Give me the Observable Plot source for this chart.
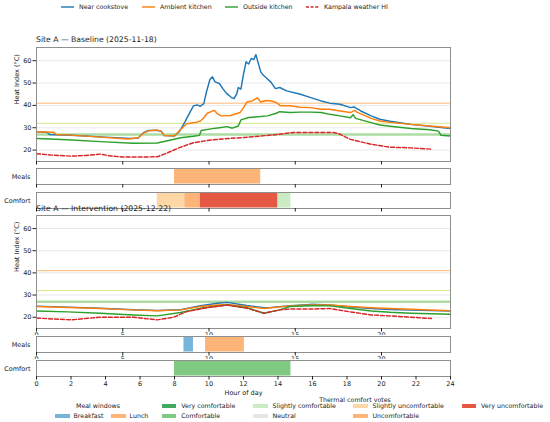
<!DOCTYPE html>
<html><head><meta charset="utf-8">
<script src="https://cdn.jsdelivr.net/npm/d3@7"></script>
<script src="https://cdn.jsdelivr.net/npm/@observablehq/plot@0.6"></script>
<style>
body{margin:0;background:#fff;}
#root{position:relative;width:550px;height:422px;overflow:hidden;font-family:"DejaVu Sans",sans-serif;color:#222;background:#fff;}
.t{position:absolute;white-space:nowrap;line-height:1;}
</style></head><body><div id="root"></div>
<script>
// ---------- DATA ----------
const seriesNames = ["Near cookstove","Ambient kitchen","Outside kitchen","Kampala weather HI"];
const yTicks = [20,30,40,50,60];
const thresholds = [27,32,41];

// Baseline (2025-11-18)
const bStoveH = [0,0.6,0.75,2,4,5.5,5.9,6.2,6.5,7.0,7.25,7.4,8.0,8.3,8.6,8.9,9.1,9.3,9.5,9.7,9.85,10.05,10.2,10.35,10.6,10.8,11.0,11.3,11.45,11.6,11.7,11.85,12.0,12.15,12.3,12.45,12.6,12.72,12.85,13.0,13.15,13.3,13.6,13.85,14.1,14.5,15.3,15.9,16.5,17.0,17.6,18.2,18.4,18.8,19.4,19.9,20.5,21.7,22.8,24];
const bStoveHI = [28.2,28.0,27.0,26.6,25.8,25.2,25.4,27.8,28.8,28.9,28.3,26.5,26.3,28.5,32.5,37,39.8,40.2,39.6,40.8,46,51.5,52.8,50.5,49.8,47.5,45.5,43.5,43,45,48,47.3,54,59.5,58.5,61,60.5,62.7,59,55,53.5,52.5,50.3,47.5,48,46.5,45,43.5,42,41,40.5,39,39.3,37.5,35.3,33.8,32.9,31.5,30.7,29.7];
const bAmbH = [0,1.0,1.15,2,3.7,5.3,5.9,6.2,6.5,6.9,7.2,7.4,8.0,8.3,8.7,9.3,9.5,9.7,9.9,10.3,10.5,10.7,11.25,11.8,12.0,12.2,12.5,12.8,13.0,13.3,13.6,13.9,14.15,14.7,15.3,15.9,16.5,17.0,17.6,18.2,18.45,18.6,19.4,19.9,20.5,21.7,22.8,24];
const bAmbHI = [28.2,28.0,27.0,26.7,25.8,25.0,25.5,27.5,28.6,29.0,28.6,26.5,26.4,28.8,31.8,32.5,33,34.5,36.5,37.8,36.2,35.3,35.5,36.8,39,41.5,42.0,43.4,41.5,42.2,42.0,41.3,39.8,39.8,39.2,39.0,38.3,38.3,37.5,36.8,37.8,36.9,34.2,33.0,32.4,31.5,30.8,30.0];
const bOutH = [0,1.8,3.7,5.6,7.0,7.6,8.35,9.1,9.45,9.55,10.1,10.6,11.05,11.35,11.7,11.85,12.3,13.0,13.4,13.9,14.1,14.7,15.3,15.9,16.5,17.0,17.6,18.2,18.35,18.5,19.4,19.9,20.5,21.7,22.8,23.3,23.45,24];
const bOutHI = [25.2,24.6,23.8,23.1,23.2,24.2,25.5,26.2,26.6,28.8,29.5,30.0,30.5,29.8,30.8,33.5,34.6,35.0,35.3,36.5,37.2,36.8,37.0,37.0,36.8,36.0,35.3,34.5,35.8,34.2,32.3,31.2,30.7,29.7,29.1,28.5,26.6,26.3];
const bWxH = [0,0.8,2.0,2.9,3.7,4.3,5.0,6.0,7.0,7.6,8.35,9.1,10.1,11.1,12.0,13.0,14.0,14.9,17.2,17.5,18.2,19.4,20.5,21.7,22.9];
const bWxHI = [18.4,17.8,17.3,17.6,18.2,17.4,16.9,16.9,17.0,18.8,21.3,23.3,24.5,25.2,25.6,26.3,27.0,27.9,27.9,27.4,24.8,22.6,21.3,21.0,20.4];

// Intervention (2025-12-22)
const iStoveH = [0,3.7,5.6,7.0,8.35,9.5,10.5,11.05,12.2,13.2,13.6,14.7,15.9,17.0,18.2,19.4,20.5,21.7,24];
const iStoveHI = [25.0,24.0,23.4,23.0,23.4,25.2,26.3,26.7,25.3,24.3,24.4,25.2,25.8,25.5,24.6,23.9,23.5,23.2,22.8];
const iAmbH = [0,3.7,5.6,7.0,8.35,9.5,10.5,11.05,12.2,13.2,13.6,14.7,15.9,17.0,18.2,19.4,20.5,21.7,24];
const iAmbHI = [24.8,23.9,23.3,22.9,23.3,24.8,25.5,25.8,24.8,23.9,24.3,25.1,25.5,25.5,24.8,24.3,23.9,23.6,22.9];
const iOutH = [0,1.8,3.7,5.6,7.0,8.35,9.5,11.05,12.2,13.2,13.6,14.1,14.7,15.9,17.0,18.2,19.4,20.5,21.7,24];
const iOutHI = [22.8,22.4,21.8,21.0,20.6,22.1,24.0,25.5,24.3,21.8,22.5,23.3,24.8,25.2,25.1,23.9,22.8,22.2,21.8,21.3];
const iWxH = [0,2.0,3.7,5.6,7.0,7.95,8.7,9.9,11.05,12.2,13.2,14.1,14.7,15.9,17.0,18.2,19.4,20.5,21.7,22.9];
const iWxHI = [19.6,18.8,20.0,20.0,18.8,20.0,22.5,24.3,25.5,24.0,21.8,23.3,23.7,23.7,23.9,22.4,21.0,20.6,20.0,19.4];

// Meal windows
const mealTypes = ["Breakfast","Lunch"];
const bMealType = ["Lunch"], bMealStart = [8.0], bMealEnd = [13.0];
const iMealType = ["Breakfast","Lunch"], iMealStart = [8.55,9.8], iMealEnd = [9.1,12.05];

// Thermal comfort votes
const comfortTypes = ["Very comfortable","Comfortable","Slightly comfortable","Neutral","Slightly uncomfortable","Uncomfortable","Very uncomfortable"];
const bComfType = ["Slightly uncomfortable","Uncomfortable","Very uncomfortable","Slightly comfortable"];
const bComfStart = [7.0,8.6,9.5,14.0], bComfEnd = [8.6,9.5,14.0,14.75];
const iComfType = ["Comfortable"], iComfStart = [8.0], iComfEnd = [14.75];

// ---------- STYLE ----------
const seriesColors = ["#1f77b4","#ff7f0e","#2ca02c","#d62728"];
const seriesDash = [null,null,null,"4,2"];
const thresholdColors = ["#acdca3","#d5e78a","#fdb874"];
const thresholdWidths = [2.6,1,1];
const mealColors = ["#6baed6","#fdae6b"];
const comfortColors = ["#31a354","#74c476","#c7e9c0","#e3e3e3","#fdd49e","#fdae6b","#e34a33"];
const FONT = "DejaVu Sans";
const FRAME = "#8f8f8f";
const TXT = "#222";

const root = document.getElementById("root");
function place(el, top){ el.style.position="absolute"; el.style.top=top+"px"; el.style.left="0px"; root.appendChild(el); }
function text(str, x, y, size, anchor){
  const d = document.createElement("div");
  d.className="t"; d.textContent=str; d.style.left=x+"px"; d.style.top=y+"px"; d.style.fontSize=size+"px";
  d.style.transform = anchor==="middle" ? "translate(-50%,-50%)" : "translate(0,-50%)";
  root.appendChild(d); return d;
}

function heatPlot(hs, vs, o){
  const marks = [
    Plot.gridY(yTicks, {stroke:"#000", strokeOpacity:0.09}),
    ...thresholds.map((v,i)=>Plot.ruleY([v], {stroke:thresholdColors[i], strokeWidth:thresholdWidths[i]})),
    ...seriesNames.map((n,k)=>{
      const rows = hs[k].map((h,i)=>({hour:h, hi:vs[k][i]}));
      return Plot.line(rows, {x:"hour", y:"hi", stroke:seriesColors[k], strokeWidth:1.45, strokeDasharray:seriesDash[k]||undefined});
    }),
    Plot.frame({stroke:FRAME}),
    Plot.axisY(yTicks, {tickSize:3.5, tickPadding:1.5, label:null, fontSize:6.5}),
    Plot.axisX([0,5,10,15,20], {tickSize:3.5, tickPadding:0.5, label:null, fontSize:6.5, tickFormat: o.labels ? (d=>d) : (()=>"")}),
    Plot.text(["Heat Index (°C)"], {frameAnchor:"left", dx:-19.5, rotate:-90, fontSize:6.5, fill:TXT})
  ];
  return Plot.plot({
    width:550, height:o.height, marginLeft:36, marginRight:100, marginTop:o.mt, marginBottom:o.mb,
    x:{domain:[0,24]}, y:{domain:[14.9,65.9]},
    style:{background:"white", fontFamily:FONT, fontSize:"6.5px", color:TXT},
    marks
  });
}

function stripPlot(types, starts, ends, label, o){
  const rows = types.map((t,i)=>({type:t, start:starts[i], end:ends[i]}));
  return Plot.plot({
    width:550, height:o.height, marginLeft:36, marginRight:100, marginTop:o.mt, marginBottom:o.mb,
    x:{domain:[0,24]}, y:{domain:[0,1], axis:null},
    color:{domain:[...mealTypes, ...comfortTypes], range:[...mealColors, ...comfortColors]},
    style:{background:"white", fontFamily:FONT, fontSize:"6.5px", color:TXT},
    marks:[
      Plot.rect(rows, {x1:"start", x2:"end", y1:0, y2:1, fill:"type", fillOpacity:0.92, insetTop:0.5, insetBottom:0.5}),
      Plot.frame({stroke:FRAME}),
      Plot.text([label], {frameAnchor:"left", dx:-6, textAnchor:"end", fontSize:6.5, fill:TXT}),
      Plot.axisX(o.ticks, {tickSize:3.5, tickPadding:o.pad, label:null, fontSize:6.5, tickFormat: o.labels ? (d=>d) : (()=>"")}),
      ...(o.xlabel ? [Plot.text([o.xlabel], {frameAnchor:"bottom", dy:16.5, lineAnchor:"middle", fontSize:6.5, fill:TXT})] : [])
    ]
  });
}

const t5 = [0,5,10,15,20];
// Baseline block
place(heatPlot([bStoveH,bAmbH,bOutH,bWxH],[bStoveHI,bAmbHI,bOutHI,bWxHI],{height:123, mt:3, mb:6, labels:false}), 44);
place(stripPlot(bMealType,bMealStart,bMealEnd,"Meals",{height:23, mt:1, mb:6, ticks:t5, labels:false, pad:1}), 167.3);
place(stripPlot(bComfType,bComfStart,bComfEnd,"Comfort",{height:23, mt:1, mb:6, ticks:t5, labels:false, pad:1}), 190.7);
// Intervention block
place(heatPlot([iStoveH,iAmbH,iOutH,iWxH],[iStoveHI,iAmbHI,iOutHI,iWxHI],{height:134, mt:1, mb:20, labels:true}), 214);
place(stripPlot(iMealType,iMealStart,iMealEnd,"Meals",{height:31, mt:1, mb:14, ticks:t5, labels:true, pad:0.5}), 335);
place(stripPlot(iComfType,iComfStart,iComfEnd,"Comfort",{height:48, mt:1, mb:31, ticks:d3.range(0,25,2), labels:true, pad:1.5, xlabel:"Hour of day"}), 359.3);

// Titles
text("Site A — Baseline (2025-11-18)", 36, 40, 7.7, "start");
text("Site A — Intervention (2025-12-22)", 36, 208.5, 7.7, "start");

// Top legend
const topX = [61,142,225,306];
seriesNames.forEach((n,k)=>{
  const s = document.createElementNS("http://www.w3.org/2000/svg","svg");
  s.setAttribute("width",14); s.setAttribute("height",6);
  s.style.position="absolute"; s.style.left=topX[k]+"px"; s.style.top="4px";
  const l = document.createElementNS("http://www.w3.org/2000/svg","line");
  l.setAttribute("x1",0); l.setAttribute("x2",13); l.setAttribute("y1",3); l.setAttribute("y2",3);
  l.setAttribute("stroke",seriesColors[k]); l.setAttribute("stroke-width",1.4);
  if (seriesDash[k]) l.setAttribute("stroke-dasharray","3,1.6");
  s.appendChild(l); root.appendChild(s);
  text(n, topX[k]+18, 7, 6.3, "start");
});

// Bottom legend
function swatch(x, y, color){
  const d = document.createElement("div");
  d.style.position="absolute"; d.style.left=x+"px"; d.style.top=(y-2.3)+"px";
  d.style.width="14.5px"; d.style.height="4.6px"; d.style.background=color; d.style.opacity="0.92";
  root.appendChild(d);
}
text("Meal windows", 98, 406, 6.3, "middle");
const mealX = [55,111];
mealTypes.forEach((m,i)=>{ swatch(mealX[i],416,mealColors[i]); text(m, mealX[i]+18.5, 416, 6.3, "start"); });
text("Thermal comfort votes", 355, 399.5, 6.3, "middle");
const colX = [161.7,253,353,461.5];
comfortTypes.forEach((c,i)=>{
  const col = Math.floor(i/2), row = i%2;
  const y = row===0 ? 406 : 416;
  swatch(colX[col], y, comfortColors[i]);
  text(c, colX[col]+19.5, y, 6.3, "start");
});
</script></body></html>
